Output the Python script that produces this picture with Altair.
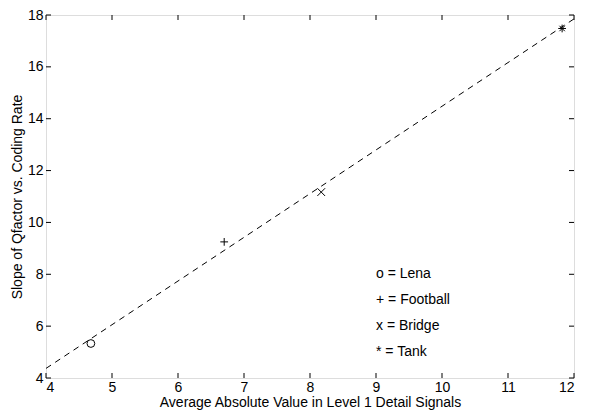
import altair as alt
import pandas as pd

# data
names = ["Lena", "Football", "Bridge", "Tank"]
avg_abs = [4.68, 6.70, 8.17, 11.82]
slope = [5.33, 9.25, 11.17, 17.48]
markers = ["o", "+", "x", "*"]

fit_x = [4.0, 12.0]
fit_y = [4.37, 17.85]

note_x = [9, 9, 9, 9]
note_y = [8, 7, 6, 5]
note_text = ["o = Lena", "+ = Football", "x = Bridge", "* = Tank"]

x_ticks = [4, 5, 6, 7, 8, 9, 10, 11, 12]
y_ticks = [4, 6, 8, 10, 12, 14, 16, 18]

W, H = 528, 363
FONT = "Liberation Sans"

pts = pd.DataFrame({"name": names, "x": avg_abs, "y": slope, "m": markers})
fit = pd.DataFrame({"x": fit_x, "y": fit_y})
notes = pd.DataFrame({"x": note_x, "y": note_y, "t": note_text})
xt = pd.DataFrame({"v": x_ticks})
yt = pd.DataFrame({"v": y_ticks})

xscale = alt.Scale(domain=[4, 12], nice=False, zero=False)
yscale = alt.Scale(domain=[4, 18], nice=False, zero=False)

xaxis = alt.Axis(values=x_ticks, format="d", ticks=False, domain=False, grid=False,
                 labelFontSize=14, labelFont=FONT, labelColor="black", labelPadding=2,
                 title="Average Absolute Value in Level 1 Detail Signals",
                 titleFont=FONT, titleFontSize=14, titleFontWeight="normal",
                 titleColor="black", titlePadding=1)
yaxis = alt.Axis(values=y_ticks, format="d", ticks=False, domain=False, grid=False,
                 labelFontSize=14, labelFont=FONT, labelColor="black", labelPadding=3,
                 title="Slope of Qfactor vs. Coding Rate",
                 titleFont=FONT, titleFontSize=14, titleFontWeight="normal",
                 titleColor="black", titlePadding=3)

line = alt.Chart(fit).mark_line(color="black", strokeWidth=1, strokeDash=[6, 5]).encode(
    x=alt.X("x:Q", scale=xscale, axis=xaxis),
    y=alt.Y("y:Q", scale=yscale, axis=yaxis),
)

shape_range = [
    "circle",
    "M-1,0L1,0M0,-1L0,1",
    "M-1,-1L1,1M-1,1L1,-1",
    "M-1,0L1,0M0,-1L0,1M-0.7,-0.7L0.7,0.7M-0.7,0.7L0.7,-0.7",
]
points = alt.Chart(pts).mark_point(filled=False, color="black", strokeWidth=1, size=60, opacity=1).encode(
    x=alt.X("x:Q", scale=xscale),
    y=alt.Y("y:Q", scale=yscale),
    shape=alt.Shape("m:N", scale=alt.Scale(domain=markers, range=shape_range), legend=None),
)

texts = alt.Chart(notes).mark_text(align="left", baseline="middle", font=FONT, fontSize=14, color="black").encode(
    x=alt.X("x:Q", scale=xscale),
    y=alt.Y("y:Q", scale=yscale),
    text="t:N",
)

tick_len = 5
xb = alt.Chart(xt).mark_rule(color="black", strokeWidth=1).encode(
    x=alt.X("v:Q", scale=xscale), y=alt.value(H), y2=alt.value(H - tick_len))
xtp = alt.Chart(xt).mark_rule(color="black", strokeWidth=1).encode(
    x=alt.X("v:Q", scale=xscale), y=alt.value(0), y2=alt.value(tick_len))
yl = alt.Chart(yt).mark_rule(color="black", strokeWidth=1).encode(
    y=alt.Y("v:Q", scale=yscale), x=alt.value(0), x2=alt.value(tick_len))
yr = alt.Chart(yt).mark_rule(color="black", strokeWidth=1).encode(
    y=alt.Y("v:Q", scale=yscale), x=alt.value(W), x2=alt.value(W - tick_len))

chart = alt.layer(line, points, texts, xb, xtp, yl, yr).properties(
    width=W, height=H,
    autosize=alt.AutoSizeParams(type="none"),
    padding={"left": 38, "top": 7, "right": 7, "bottom": 33},
).configure_view(stroke="black", strokeWidth=1.2).configure(background="white")

chart.save("out.html", embed_options={"renderer": "svg", "actions": False})
